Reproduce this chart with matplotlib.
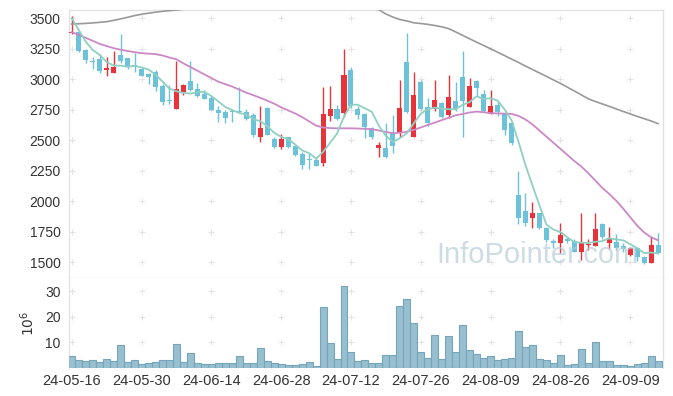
import matplotlib
matplotlib.use("Agg")
import matplotlib.pyplot as plt
import numpy as np

plt.rcParams['font.family'] = ['Liberation Sans', 'DejaVu Sans']

# daily candles, 2024-05-16 .. 2024-09-13 (85 trading days)
opens = [3380, 3390, 3240, 3150, 3165, 3080, 3050, 3200, 3172, 3115,
         3085, 3045, 3060, 2945, 2825, 2757, 2897, 2985, 2918, 2880,
         2848, 2748, 2735, 2740, 2740, 2730, 2707, 2525, 2765, 2510,
         2448, 2525, 2455, 2388, 2345, 2338, 2311, 2702, 2757, 2726,
         3076, 2757, 2713, 2603, 2436, 2434, 2557, 2562, 3144, 2530,
         2980, 2770, 2754, 2808, 2707, 2825, 3016, 2776, 2989, 2879,
         2726, 2789, 2721, 2644, 2052, 1920, 1861, 1902, 1779, 1675,
         1661, 1693, 1677, 1582, 1638, 1636, 1814, 1661, 1664, 1630,
         1560, 1615, 1546, 1492, 1640]
highs = [3520, 3395, 3248, 3180, 3205, 3185, 3228, 3375, 3178, 3212,
         3095, 3055, 3078, 2960, 2955, 3152, 2962, 3152, 2972, 2910,
         2860, 2780, 2748, 2755, 2935, 2755, 2720, 2781, 2770, 2525,
         2550, 2530, 2460, 2400, 2395, 2360, 2934, 2945, 2790, 3246,
         3103, 2781, 2720, 2612, 2488, 2644, 2707, 2994, 3377, 3062,
         2990, 2845, 2994, 2815, 3035, 2980, 3232, 3008, 2995, 2912,
         2912, 2816, 2725, 2650, 2251, 2066, 1997, 1905, 1785, 1690,
         1820, 1710, 1690, 1902, 1690, 1902, 1820, 1792, 1730, 1655,
         1625, 1620, 1555, 1705, 1740]
lows = [3375, 3220, 3130, 3085, 3055, 3025, 3048, 3130, 3082, 3058,
        3025, 2960, 2905, 2785, 2795, 2755, 2875, 2905, 2858, 2835,
        2745, 2648, 2640, 2650, 2722, 2665, 2525, 2484, 2540, 2440,
        2425, 2440, 2370, 2262, 2265, 2285, 2289, 2658, 2665, 2688,
        2762, 2672, 2516, 2508, 2366, 2357, 2398, 2530, 2721, 2525,
        2748, 2617, 2743, 2680, 2680, 2743, 2530, 2770, 2860, 2735,
        2716, 2700, 2543, 2460, 1814, 1800, 1779, 1770, 1669, 1615,
        1574, 1660, 1580, 1519, 1600, 1630, 1690, 1607, 1598, 1585,
        1550, 1510, 1485, 1490, 1565]
closes = [3390, 3235, 3160, 3145, 3070, 3092, 3100, 3150, 3100, 3105,
          3030, 3015, 2940, 2815, 2820, 2918, 2950, 2912, 2866, 2838,
          2748, 2726, 2685, 2735, 2728, 2675, 2543, 2598, 2543, 2448,
          2510, 2448, 2380, 2298, 2335, 2290, 2716, 2757, 2675, 3035,
          2781, 2707, 2611, 2530, 2465, 2366, 2456, 2767, 2735, 2871,
          2757, 2644, 2830, 2690, 2852, 2754, 2825, 2945, 2926, 2743,
          2781, 2735, 2584, 2480, 1861, 1820, 1902, 1779, 1683, 1657,
          1724, 1677, 1582, 1664, 1645, 1770, 1705, 1697, 1620, 1607,
          1615, 1541, 1492, 1642, 1572]
pre_closes = [3715, 3640, 3485, 3270]  # closes before the window, for MA5

ma20 = [3385, 3365, 3340, 3315, 3290, 3272, 3255, 3242, 3232, 3222,
        3214, 3210, 3206, 3195, 3178, 3164, 3130, 3100, 3070, 3040,
        3010, 2980, 2960, 2940, 2915, 2890, 2870, 2848, 2825, 2800,
        2770, 2745, 2720, 2690, 2655, 2620, 2605, 2600, 2598, 2598,
        2598, 2596, 2594, 2590, 2580, 2568, 2558, 2562, 2570, 2585,
        2605, 2625, 2645, 2665, 2685, 2705, 2715, 2728, 2735, 2730,
        2722, 2720, 2718, 2716, 2700, 2670, 2630, 2580, 2530, 2480,
        2430, 2380, 2330, 2285, 2230, 2170, 2110, 2060, 2005, 1940,
        1870, 1800, 1745, 1705, 1680]
ma60 = [3453, 3455, 3458, 3462, 3467, 3472, 3483, 3495, 3508, 3522,
        3533, 3542, 3550, 3557, 3563, 3568, 3574, 3580, 3585, 3590,
        3595, 3599, 3603, 3607, 3610, 3612, 3614, 3615, 3616, 3617,
        3617, 3617, 3616, 3615, 3614, 3612, 3610, 3607, 3605, 3602,
        3598, 3594, 3588, 3580, 3570, 3535, 3510, 3490, 3478, 3463,
        3457, 3450, 3441, 3430, 3415, 3388, 3360, 3332, 3304, 3277,
        3250, 3222, 3194, 3166, 3138, 3108, 3080, 3052, 3024, 2995,
        2966, 2935, 2904, 2872, 2840, 2818, 2798, 2778, 2757, 2736,
        2716, 2696, 2677, 2658, 2636]
volumes = [4.7, 3.1, 2.7, 3.1, 2.2, 3.5, 2.7, 8.8, 2.3, 3.1,
           1.4, 1.8, 2.3, 3.1, 3.1, 9.4, 2.3, 5.7, 1.8, 1.4,
           1.4, 1.8, 1.8, 1.8, 4.7, 1.8, 1.8, 7.7, 2.7, 1.8,
           1.4, 1.0, 1.0, 1.4, 2.2, 0.6, 23.7, 9.6, 3.4, 32.0,
           6.1, 2.7, 3.1, 1.8, 1.8, 4.9, 4.9, 24.2, 26.8, 17.4,
           6.2, 3.8, 12.7, 3.4, 12.3, 6.1, 16.6, 6.9, 5.3, 3.8,
           4.6, 3.0, 3.4, 3.8, 14.3, 8.1, 8.8, 3.4, 3.0, 1.8,
           4.9, 1.0, 1.4, 7.3, 1.8, 10.0, 2.6, 2.6, 1.0, 1.0,
           0.6, 1.4, 1.8, 4.6, 2.6]  # millions

tick_pos = [0, 10, 20, 30, 40, 50, 60, 70, 80]
tick_labels = ['24-05-16', '24-05-30', '24-06-14', '24-06-28', '24-07-12',
               '24-07-26', '24-08-09', '24-08-26', '24-09-09']
price_ticks = [1500, 1750, 2000, 2250, 2500, 2750, 3000, 3250, 3500]
vol_ticks = [10, 20, 30]

UP = '#e8333b'
DOWN = '#6cc2d9'
FRAME = '#e3e3e3'

o = np.array(opens)
h = np.array(highs)
l = np.array(lows)
c = np.array(closes)
x = np.arange(len(c))
allc = np.concatenate([pre_closes, c])
ma5 = np.convolve(allc, np.ones(5) / 5, mode='valid')

fig = plt.figure(figsize=(6.73, 3.96), dpi=100)
ax = fig.add_axes([0.1025, 0.298, 0.8826, 0.6768])
axv = fig.add_axes([0.1025, 0.0707, 0.8826, 0.2273], sharex=ax)

up = c >= o
cols = np.where(up, UP, DOWN)
ax.vlines(x, l, h, colors=cols, linewidth=1.0, zorder=3)
body_lo = np.minimum(o, c)
body_h = np.maximum(np.abs(c - o), 8)
ax.bar(x, body_h, bottom=body_lo, width=0.72, color=cols, zorder=4)

ax.plot(x, ma60, color='#999999', lw=1.2, zorder=5)
ax.plot(x, ma20, color='#cc88c6', lw=1.3, zorder=5)
ax.plot(x, ma5, color='#8fd0c2', lw=1.3, zorder=5)

axv.bar(x, volumes, width=1.0, color='#98bfcf', edgecolor='#74a5ba',
        linewidth=0.8, zorder=3)

ax.set_xlim(-0.4, 84.7)
ax.set_ylim(1371, 3568)
axv.set_ylim(0, 35.1)

ax.set_yticks(price_ticks)
axv.set_yticks(vol_ticks)
axv.set_xticks(tick_pos)
axv.set_xticklabels(tick_labels)
ax.tick_params(axis='x', labelbottom=False)

for a, yt in ((ax, price_ticks), (axv, vol_ticks)):
    gx, gy = np.meshgrid(tick_pos, yt)
    a.scatter(gx.ravel(), gy.ravel(), marker='+', s=14, color='#e4e4e4',
              linewidths=0.8, zorder=1)
    a.tick_params(length=0, labelsize=10, colors='#333333', pad=6)
    for s in a.spines.values():
        s.set_color(FRAME)
        s.set_linewidth(1.0)
axv.spines['bottom'].set_visible(False)
axv.spines['top'].set_visible(False)
axv.tick_params(axis='x', pad=4, labelsize=10.5)

axv.set_ylabel(r'$10^6$', fontsize=10, color='#333333', labelpad=6)

fig.text(0.648, 0.335, 'InfoPointer.com', fontsize=21, color='#b7cdd9',
         alpha=0.7, zorder=10)

fig.savefig('out.png', dpi=100)
